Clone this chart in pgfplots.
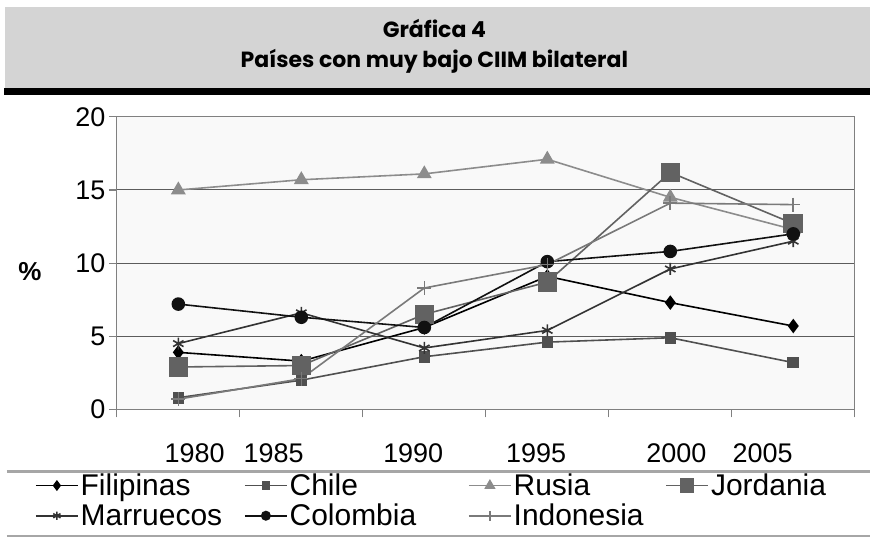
\documentclass[border=0pt]{standalone}
\usepackage{fontspec}
\setmainfont{Liberation Sans}
\newfontfamily\titlefont{Poppins}
\usepackage{pgfplots}
\pgfplotsset{compat=1.18}

\definecolor{bandgray}{HTML}{D4D4D4}
\definecolor{framegray}{HTML}{808080}
\definecolor{plotbg}{HTML}{F9F9F9}
\definecolor{cFil}{HTML}{000000}
\definecolor{cChi}{HTML}{505050}
\definecolor{cRus}{HTML}{8C8C8C}
\definecolor{cJor}{HTML}{626262}
\definecolor{cMar}{HTML}{333333}
\definecolor{cCol}{HTML}{111111}
\definecolor{cIdn}{HTML}{7A7A7A}

\begin{document}
\begin{tikzpicture}
% canvas and heading band
\fill[white] (0pt,0pt) rectangle (871pt,544pt);
\fill[bandgray] (5pt,537pt) rectangle (871pt,456pt);
\fill[black] (4pt,456pt) rectangle (871pt,449pt);
\node[font=\titlefont\bfseries\fontsize{22}{26}\selectfont] at (435pt,515pt) {Gráfica 4};
\node[font=\titlefont\bfseries\fontsize{22}{26}\selectfont] at (435pt,483pt) {Países con muy bajo CIIM bilateral};
% legend rules
\draw[line width=2.5pt,gray!70] (7pt,72pt) -- (871pt,72pt);
\draw[line width=2.5pt,gray!70] (7pt,7pt) -- (871pt,7pt);
\node[font=\bfseries\fontsize{26}{30}\selectfont] at (30pt,272pt) {\%};

\begin{axis}[
    at={(117pt,134pt)}, anchor=south west,
    scale only axis, width=739pt, height=293pt,
    xmin=-0.5, xmax=5.5, ymin=0, ymax=20,
    axis background/.style={fill=plotbg},
    axis line style={framegray, line width=1.2pt},
    ytick={0,5,10,15,20},
    ymajorgrids, grid style={cMar!80, line width=1pt},
    tick align=outside, major tick length=8pt,
    tick style={framegray, line width=1.2pt},
    xtick={-0.5,0.5,1.5,2.5,3.5,4.5,5.5}, xticklabels={},
    extra x ticks={0.133,0.774,1.91,2.91,4.05,4.75},
    extra x tick labels={1980,1985,1990,1995,2000,2005},
    extra x tick style={major tick length=0pt, grid=none, xticklabel style={yshift=-31pt}},
    xtick pos=bottom, ytick pos=left,
    /pgf/number format/assume math mode=true,
    ticklabel style={font=\fontsize{27}{30}\selectfont},
    /pgf/number format/1000 sep={},
    legend columns=4,
    legend cell align=left,
    legend style={at={(-0.111,-0.213)}, anchor=north west, draw=none, fill=none,
        font=\fontsize{30}{33}\selectfont, inner sep=0pt,
        /tikz/column 2/.style={column sep=20pt},
        /tikz/column 4/.style={column sep=50pt},
        /tikz/column 6/.style={column sep=20pt},
        row sep=3pt},
    legend image code/.code={\draw[mark repeat=2,mark phase=2,every mark/.append style={scale=0.7},#1] plot coordinates {(0pt,0pt)(21pt,0pt)(42pt,0pt)};},
    every axis plot/.append style={line width=1.6pt},
]
\addplot[cFil, mark=diamond*, mark size=6pt] coordinates {(0,3.9)(1,3.3)(2,5.6)(3,9.1)(4,7.3)(5,5.7)};
\addplot[cChi, mark=square*, mark size=5pt] coordinates {(0,0.8)(1,2.0)(2,3.6)(3,4.6)(4,4.9)(5,3.2)};
\addplot[cRus, mark=triangle*, mark size=7pt] coordinates {(0,15.0)(1,15.7)(2,16.1)(3,17.1)(4,14.5)(5,12.3)};
\addplot[cJor, mark=square*, mark size=9pt] coordinates {(0,2.9)(1,3.0)(2,6.5)(3,8.7)(4,16.2)(5,12.7)};
\addplot[cMar, mark=asterisk, mark size=6pt] coordinates {(0,4.5)(1,6.6)(2,4.2)(3,5.4)(4,9.6)(5,11.5)};
\addplot[cCol, mark=*, mark size=6pt] coordinates {(0,7.2)(1,6.3)(2,5.6)(3,10.1)(4,10.8)(5,12.0)};
\addplot[cIdn, mark=+, mark size=7pt] coordinates {(0,0.7)(1,2.1)(2,8.3)(3,9.9)(4,14.1)(5,14.0)};
\legend{Filipinas,Chile,Rusia,Jordania,Marruecos,Colombia,Indonesia}
\end{axis}
\end{tikzpicture}
\end{document}
